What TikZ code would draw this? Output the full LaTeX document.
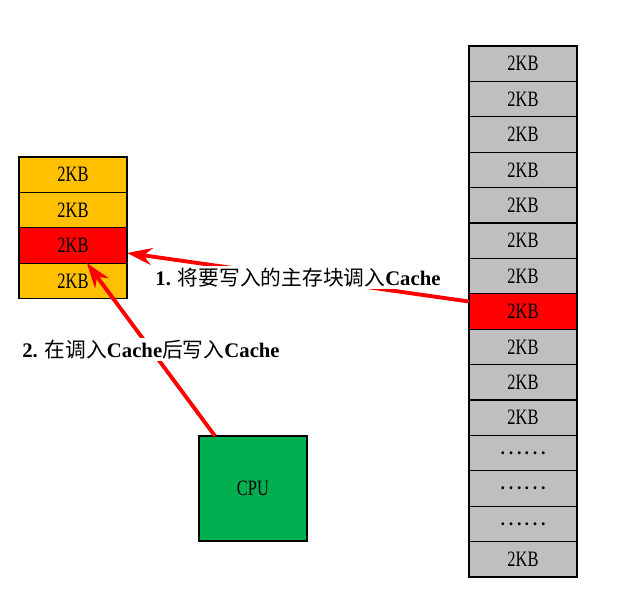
\documentclass[tikz,border=0pt]{standalone}
\usepackage{fontspec}
\setmainfont{Liberation Serif}
\newfontfamily\cjk{Noto Sans CJK SC}
\newfontfamily\kbfont[FakeStretch=0.75]{Liberation Serif}
\usetikzlibrary{arrows.meta,positioning}
\definecolor{cacheorange}{HTML}{FFC000}
\definecolor{memgray}{HTML}{BFBFBF}
\definecolor{cpugreen}{HTML}{00B050}

\begin{document}
\begin{tikzpicture}[x=0.02cm,y=-0.02cm,
  blk/.style={draw,line width=0.6pt,minimum width=2.16cm,minimum height=0.708cm,
    inner sep=0pt,outer sep=0pt,font=\kbfont\fontsize{12.5}{13}\selectfont},
  wr/.style={draw=red,line width=2.2pt,-{Stealth[length=5mm,width=3.4mm]}},
  lbl/.style={fill=white,inner sep=1pt,font=\bfseries\fontsize{11.8}{14}\selectfont}]
\useasboundingbox (0,0) rectangle (622,613);
% ---------- cache ----------
\node[blk,fill=cacheorange] (c1) at (73,174.7) {2KB};
\node[blk,fill=cacheorange,below=0pt of c1] (c2) {2KB};
\node[blk,fill=red,below=0pt of c2] (c3) {2KB};
\node[blk,fill=cacheorange,below=0pt of c3] (c4) {2KB};
% ---------- main memory ----------
\foreach \t/\c [count=\i] in {2KB/memgray,2KB/memgray,2KB/memgray,2KB/memgray,
    2KB/memgray,2KB/memgray,2KB/memgray,2KB/red,2KB/memgray,2KB/memgray,2KB/memgray,
    {\cjk ……}/memgray,{\cjk ……}/memgray,{\cjk ……}/memgray,2KB/memgray}{
  \node[blk,fill=\c] (m\i) at (523,{46+35.4*(\i-0.5)}) {\t};}
% ---------- CPU ----------
\node[blk,fill=cpugreen,minimum height=2.1cm] (cpu) at (253,488.5) {CPU};
% ---------- transfers ----------
\draw[wr] ([yshift=0.2cm]m8.west) -- node[lbl] {1. {\cjk\mdseries 将要写入的主存块调入}Cache} ([yshift=-0.15cm]c3.east);
\draw[wr] ([xshift=-0.76cm]cpu.north) -- node[lbl] {2. {\cjk\mdseries 在调入}Cache{\cjk\mdseries 后写入}Cache} ([xshift=0.28cm]c3.south);
\end{tikzpicture}
\end{document}
